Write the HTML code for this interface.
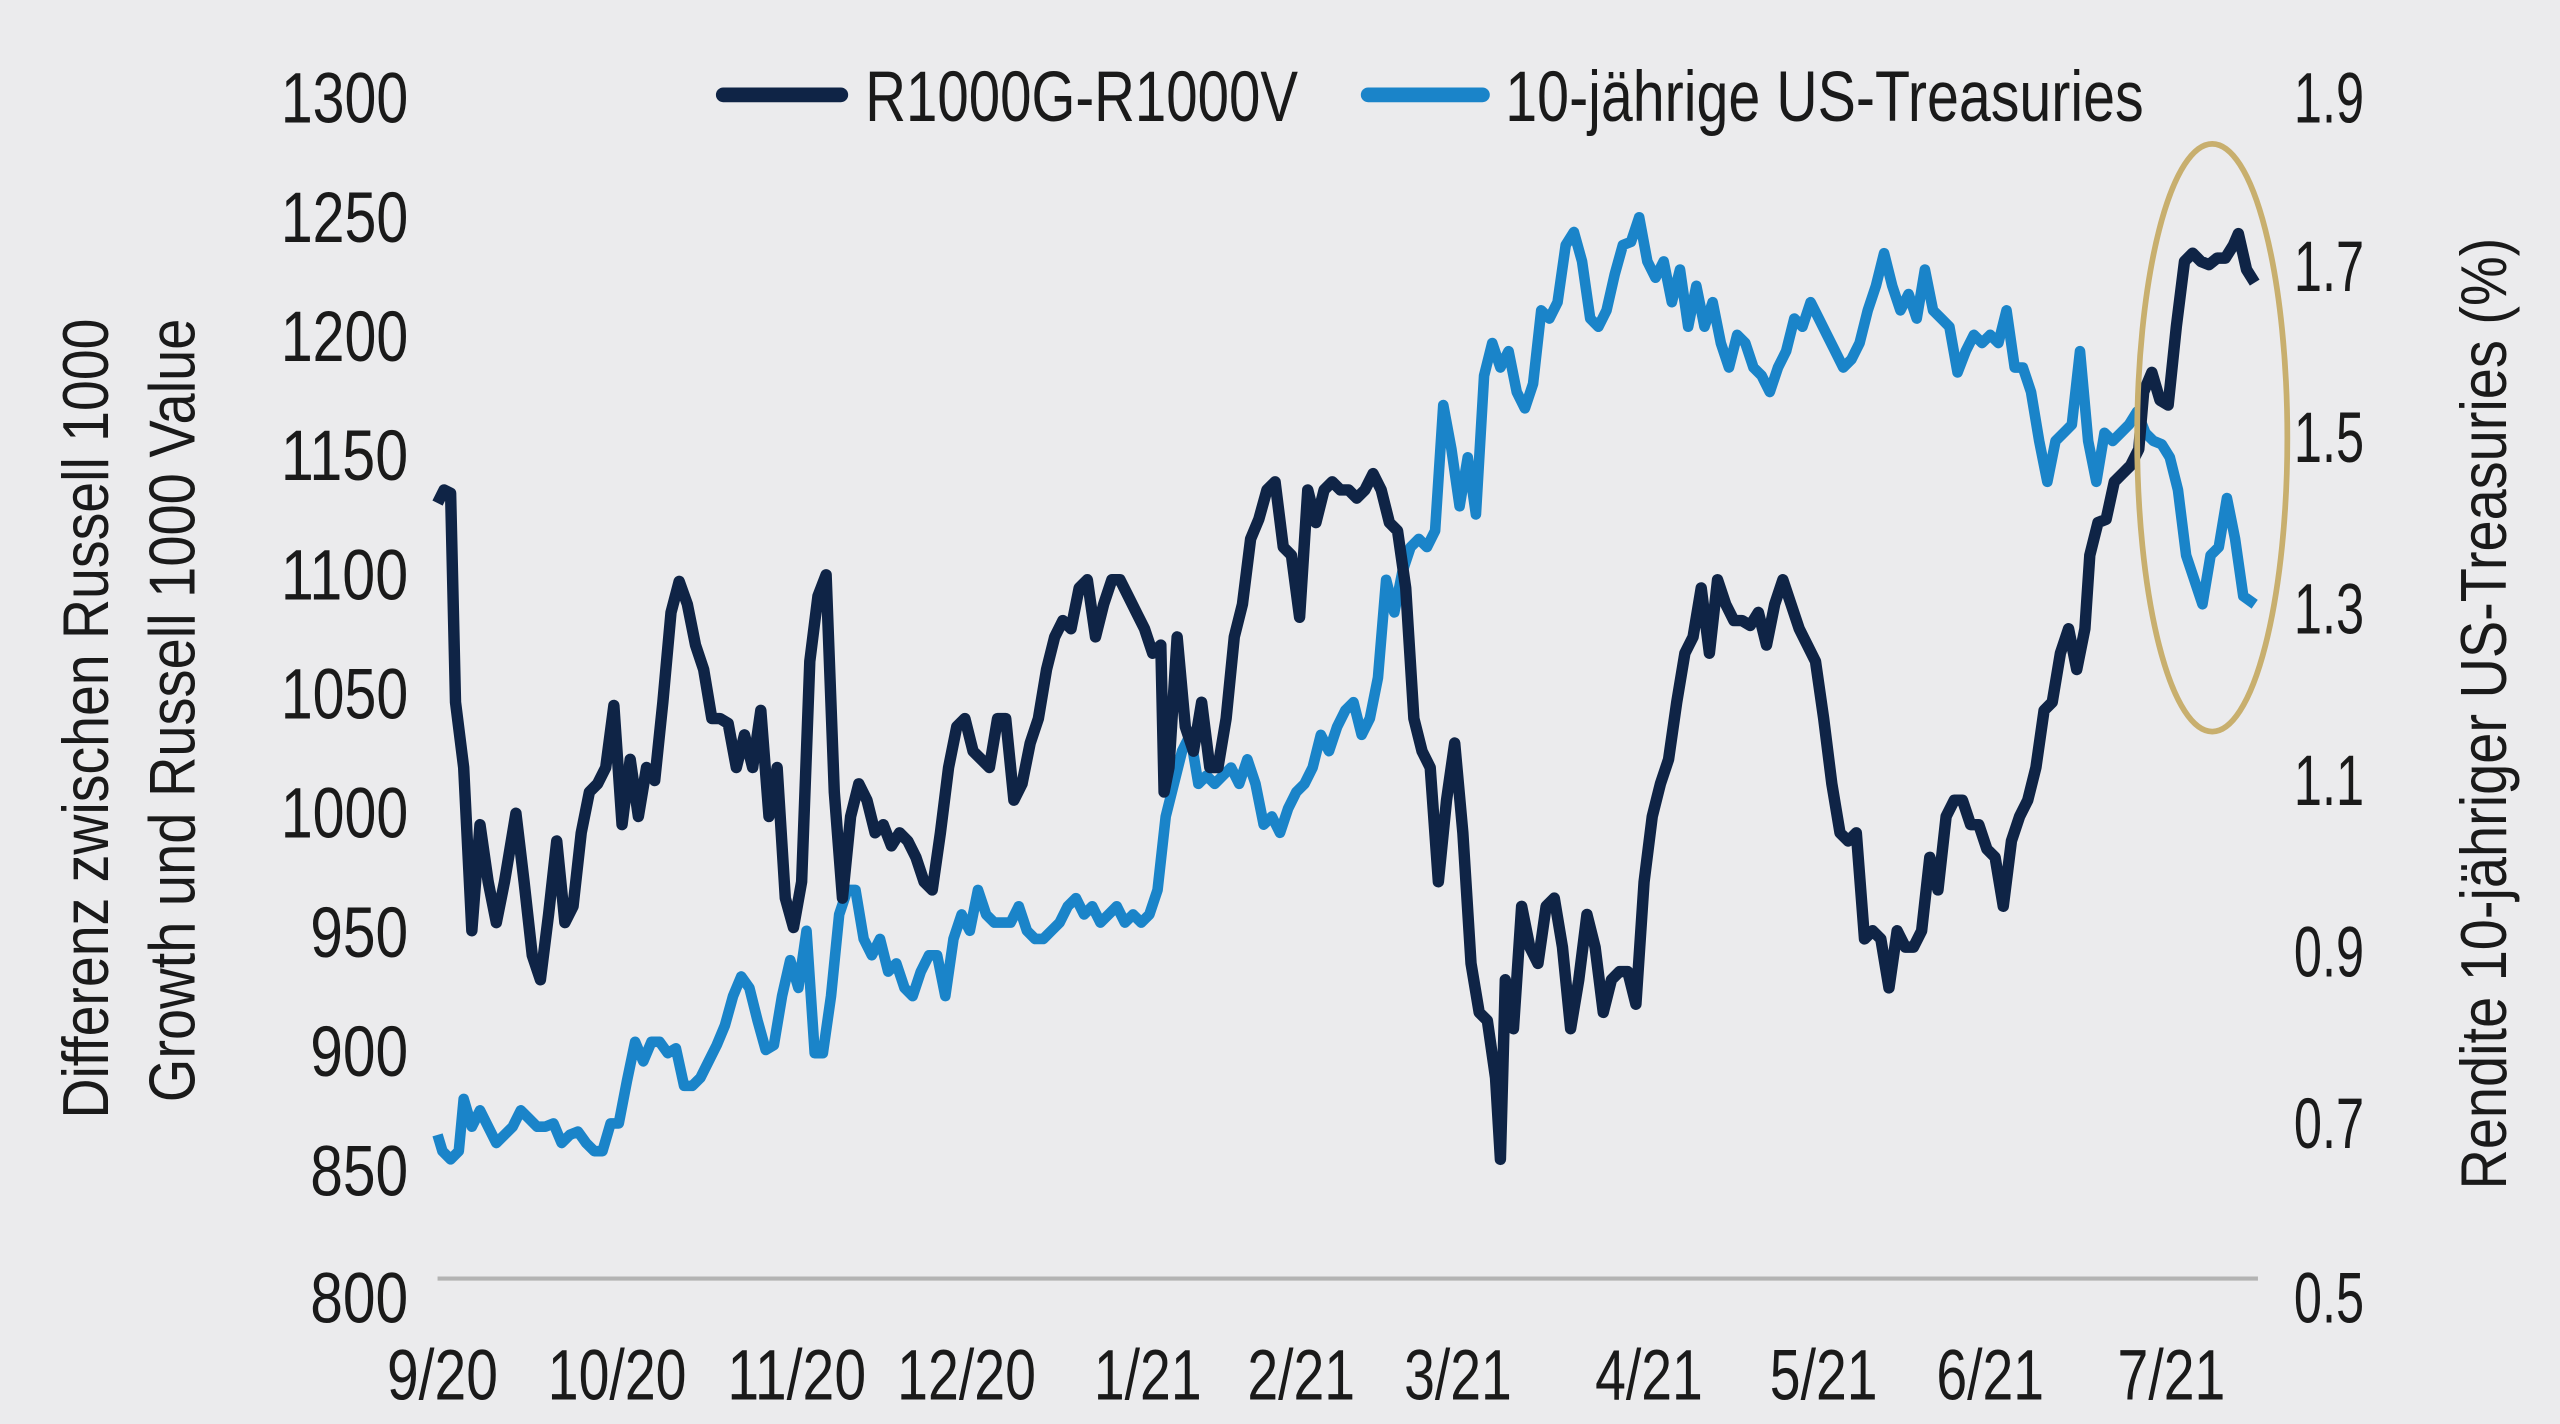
<!DOCTYPE html>
<html><head><meta charset="utf-8"><style>
html,body{margin:0;padding:0;background:#ebebed;}
svg{display:block;}
text{font-family:"Liberation Sans",sans-serif;fill:#1a1a1a;}
</style></head><body>
<svg width="2560" height="1424" viewBox="0 0 1568 872" xmlns="http://www.w3.org/2000/svg">
<rect width="1568" height="872" fill="#ebebed"/>
<line x1="268" y1="783" x2="1383" y2="783" stroke="#b3b3b3" stroke-width="2.5"/>
<g font-size="44" text-anchor="end">
<text x="250" y="75" textLength="78" lengthAdjust="spacingAndGlyphs">1300</text>
<text x="250" y="148" textLength="78" lengthAdjust="spacingAndGlyphs">1250</text>
<text x="250" y="221" textLength="78" lengthAdjust="spacingAndGlyphs">1200</text>
<text x="250" y="294" textLength="78" lengthAdjust="spacingAndGlyphs">1150</text>
<text x="250" y="367" textLength="78" lengthAdjust="spacingAndGlyphs">1100</text>
<text x="250" y="440" textLength="78" lengthAdjust="spacingAndGlyphs">1050</text>
<text x="250" y="513" textLength="78" lengthAdjust="spacingAndGlyphs">1000</text>
<text x="250" y="586" textLength="60" lengthAdjust="spacingAndGlyphs">950</text>
<text x="250" y="659" textLength="60" lengthAdjust="spacingAndGlyphs">900</text>
<text x="250" y="732" textLength="60" lengthAdjust="spacingAndGlyphs">850</text>
<text x="250" y="810" textLength="60" lengthAdjust="spacingAndGlyphs">800</text>
</g>
<g font-size="44">
<text x="1405" y="75" textLength="43" lengthAdjust="spacingAndGlyphs">1.9</text>
<text x="1405" y="178" textLength="43" lengthAdjust="spacingAndGlyphs">1.7</text>
<text x="1405" y="283" textLength="43" lengthAdjust="spacingAndGlyphs">1.5</text>
<text x="1405" y="388" textLength="43" lengthAdjust="spacingAndGlyphs">1.3</text>
<text x="1405" y="493" textLength="43" lengthAdjust="spacingAndGlyphs">1.1</text>
<text x="1405" y="598" textLength="43" lengthAdjust="spacingAndGlyphs">0.9</text>
<text x="1405" y="703" textLength="43" lengthAdjust="spacingAndGlyphs">0.7</text>
<text x="1405" y="810" textLength="43" lengthAdjust="spacingAndGlyphs">0.5</text>
</g>
<g font-size="44" text-anchor="middle">
<text x="271" y="857" textLength="68" lengthAdjust="spacingAndGlyphs">9/20</text>
<text x="378" y="857" textLength="85" lengthAdjust="spacingAndGlyphs">10/20</text>
<text x="488" y="857" textLength="85" lengthAdjust="spacingAndGlyphs">11/20</text>
<text x="592" y="857" textLength="85" lengthAdjust="spacingAndGlyphs">12/20</text>
<text x="703" y="857" textLength="66" lengthAdjust="spacingAndGlyphs">1/21</text>
<text x="797" y="857" textLength="66" lengthAdjust="spacingAndGlyphs">2/21</text>
<text x="893" y="857" textLength="66" lengthAdjust="spacingAndGlyphs">3/21</text>
<text x="1010" y="857" textLength="66" lengthAdjust="spacingAndGlyphs">4/21</text>
<text x="1117" y="857" textLength="66" lengthAdjust="spacingAndGlyphs">5/21</text>
<text x="1219" y="857" textLength="66" lengthAdjust="spacingAndGlyphs">6/21</text>
<text x="1330" y="857" textLength="66" lengthAdjust="spacingAndGlyphs">7/21</text>
</g>
<g font-size="40" text-anchor="middle">
<text transform="translate(66,440) rotate(-90)" textLength="490" lengthAdjust="spacingAndGlyphs">Differenz zwischen Russell 1000</text>
<text transform="translate(119,435) rotate(-90)" textLength="480" lengthAdjust="spacingAndGlyphs">Growth und Russell 1000 Value</text>
<text transform="translate(1535,437) rotate(-90)" textLength="583" lengthAdjust="spacingAndGlyphs">Rendite 10-jähriger US-Treasuries (%)</text>
</g>
<line x1="443" y1="58" x2="515" y2="58" stroke="#0f2446" stroke-width="9" stroke-linecap="round"/>
<text x="530" y="74" font-size="44" textLength="265" lengthAdjust="spacingAndGlyphs">R1000G-R1000V</text>
<line x1="838" y1="58" x2="908" y2="58" stroke="#1a84c9" stroke-width="9" stroke-linecap="round"/>
<text x="922" y="74" font-size="44" textLength="391" lengthAdjust="spacingAndGlyphs">10-jährige US-Treasuries</text>
<polyline fill="none" stroke="#1a84c9" stroke-width="6.5" stroke-linejoin="round" points="268,695 271,705 276,710 281,705 284,673 289,690 294,680 299,690 304,700 309,695 314,690 319,680 324,685 329,690 334,690 339,688 344,700 349,695 354,693 359,700 364,705 369,705 374,688 379,688 384,662 389,638 394,650 399,638 404,638 409,645 414,642 419,665 424,665 429,660 434,650 439,640 444,628 449,610 454,598 459,605 464,625 469,643 474,640 479,610 484,588 489,605 494,570 499,645 504,645 509,610 514,560 519,545 524,545 529,575 534,585 539,575 544,595 549,590 554,605 559,610 564,595 569,585 574,585 579,610 584,575 589,560 594,570 599,545 604,560 609,565 614,565 619,565 624,555 629,570 634,575 639,575 644,570 649,565 654,555 659,550 664,560 669,555 674,565 679,560 684,555 689,565 694,560 699,565 704,560 709,545 714,500 719,480 724,460 729,450 734,480 739,475 744,480 749,475 754,470 759,480 764,465 769,480 774,505 779,500 784,510 789,495 794,485 799,480 804,470 809,450 814,460 819,445 824,435 829,430 834,450 839,440 844,415 849,355 854,375 859,350 864,335 869,330 874,335 879,325 884,248 889,275 894,310 899,280 904,315 909,230 914,210 919,225 924,215 929,240 934,250 939,235 944,190 949,195 954,185 959,150 964,142 969,160 974,195 979,200 984,190 989,168 994,150 999,148 1004,133 1009,160 1014,170 1019,160 1024,185 1029,165 1034,200 1039,175 1044,200 1049,185 1054,210 1059,225 1064,205 1069,210 1074,225 1079,230 1084,240 1089,225 1094,215 1099,195 1104,200 1109,185 1114,195 1119,205 1124,215 1129,225 1134,220 1139,210 1144,190 1149,175 1154,155 1159,175 1164,190 1169,180 1174,195 1179,165 1184,190 1189,195 1194,200 1199,228 1204,215 1209,205 1214,210 1219,205 1224,210 1229,190 1234,225 1239,225 1244,240 1249,270 1254,295 1259,270 1264,265 1269,260 1274,215 1279,270 1284,295 1289,265 1294,270 1299,265 1304,260 1309,252 1314,265 1319,270 1324,272 1329,280 1334,300 1339,340 1344,355 1349,370 1354,340 1359,335 1364,305 1369,330 1374,365 1381,370"/>
<polyline fill="none" stroke="#0f2446" stroke-width="7" stroke-linejoin="round" points="268,308 272,300 276,302 279,430 284,470 289,570 294,505 299,540 304,565 309,540 316,498 321,540 326,585 331,600 336,560 341,515 346,565 351,555 356,510 361,485 366,480 371,470 376,432 381,505 386,465 391,500 396,470 401,478 406,430 411,375 416,356 421,370 426,395 431,410 436,440 441,440 446,443 451,470 456,450 461,470 466,435 471,500 476,470 481,550 486,568 491,540 496,405 501,365 506,352 511,485 516,550 521,500 526,480 531,490 536,510 541,505 546,518 551,510 556,515 561,525 566,540 571,545 576,510 581,470 586,445 591,440 596,460 601,465 606,470 611,440 616,440 621,490 626,480 631,455 636,440 641,410 646,390 651,380 656,385 661,360 666,355 671,390 676,370 681,355 686,355 691,365 696,375 701,385 706,400 711,395 713,485 716,470 721,390 726,445 731,460 736,430 741,470 746,470 751,440 756,390 761,370 766,330 771,318 776,300 781,295 786,335 791,340 796,378 801,300 806,320 811,300 816,295 821,300 826,300 831,305 836,300 841,290 846,300 851,320 856,325 861,360 866,440 871,460 876,470 881,540 886,490 891,455 896,510 901,590 906,620 911,625 916,660 919,710 922,600 927,630 932,555 937,580 942,590 947,555 952,550 957,580 962,630 967,600 972,560 977,580 982,620 987,600 992,595 997,595 1002,615 1007,540 1012,500 1017,480 1022,465 1027,430 1032,400 1037,390 1042,360 1047,400 1052,355 1057,370 1062,380 1067,380 1072,383 1077,375 1082,395 1087,370 1092,355 1097,370 1102,385 1107,395 1112,405 1117,440 1122,480 1127,510 1132,515 1137,510 1142,575 1147,570 1152,575 1157,605 1162,570 1167,580 1172,580 1177,570 1182,525 1187,545 1192,500 1197,490 1202,490 1207,505 1212,505 1217,520 1222,525 1227,555 1232,515 1237,500 1242,490 1247,470 1252,435 1257,430 1262,400 1267,385 1272,410 1277,385 1280,340 1285,320 1290,318 1295,295 1300,290 1305,285 1310,275 1313,240 1318,228 1323,245 1328,248 1333,200 1338,160 1343,155 1348,160 1353,162 1358,158 1363,158 1368,150 1371,143 1376,165 1381,173"/>
<ellipse cx="1355" cy="268" rx="46" ry="180" fill="none" stroke="#c8af6e" stroke-width="3.5"/>
</svg>
</body></html>
